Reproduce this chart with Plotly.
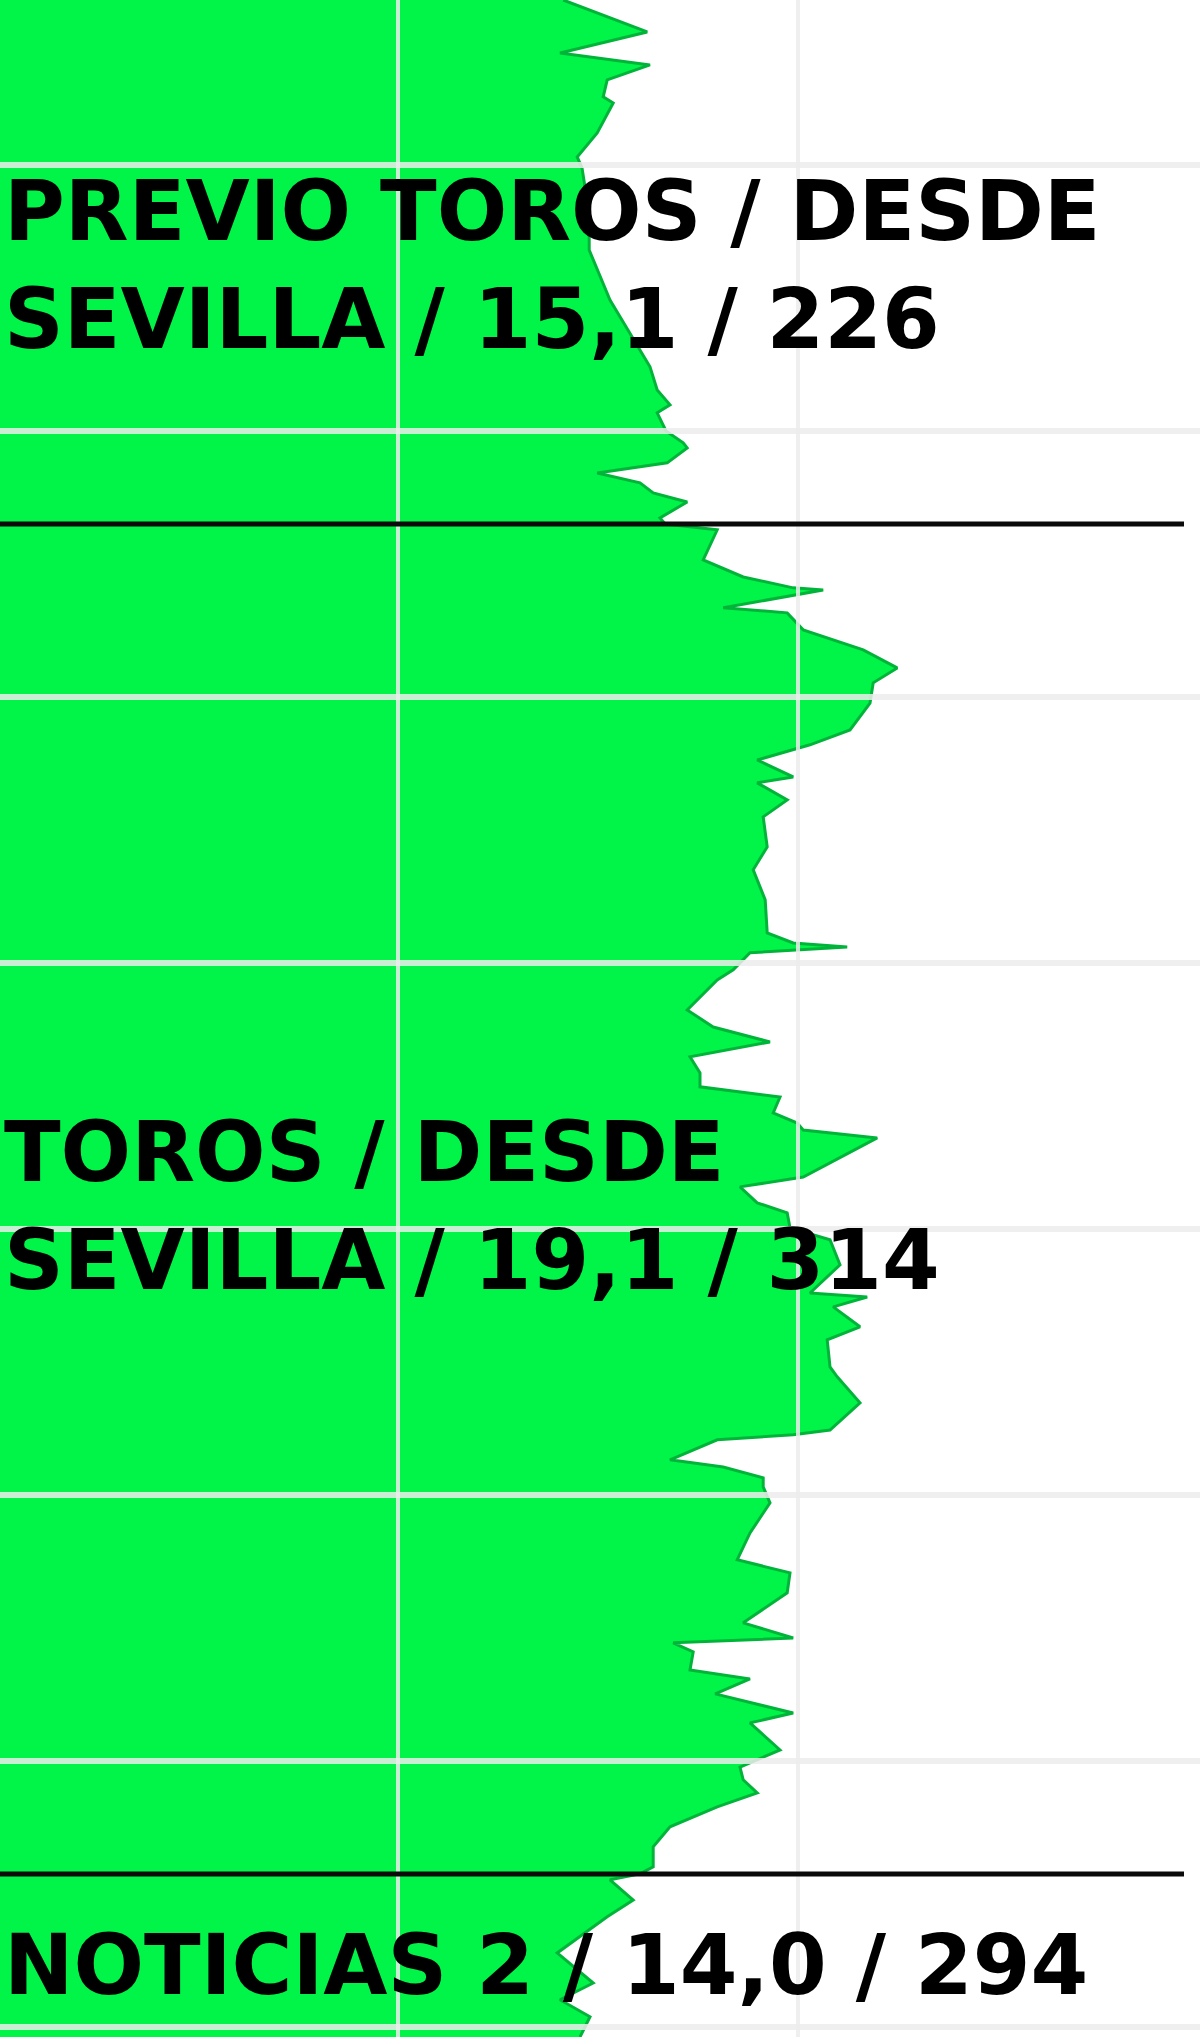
import plotly.graph_objects as go

# Audience share (%) by minute of broadcast, three consecutive programmes
previo_min = [3.80, 5.00, 5.79, 6.24, 6.80, 7.44, 7.67, 8.80, 9.70, 10.11, 11.84, 13.20,
              15.08, 16.69, 17.59, 18.46, 19.02, 19.32, 20.00, 20.45, 20.64, 21.20,
              21.58, 21.95, 22.33, 22.67, 23.27, 23.50]
previo_share = [14.13, 16.23, 14.05, 16.30, 15.23, 15.13, 15.38, 14.98, 14.48, 14.60, 14.78, 14.78,
                15.30, 15.93, 16.30, 16.48, 16.80, 16.48, 16.70, 17.13, 17.23, 16.73,
                14.98, 16.05, 16.38, 17.23, 16.55, 16.68]

toros_min = [23.72, 24.85, 25.49, 25.90, 25.98, 26.65, 26.84, 27.48, 28.23, 28.91, 29.47, 30.23,
             31.24, 31.80, 31.99, 32.37, 33.01, 33.23, 33.87, 34.51, 35.64, 36.50, 37.63,
             38.87, 39.25, 39.40, 39.62, 40.26, 40.64, 41.77, 42.41, 42.97, 43.53, 44.14,
             44.66, 45.04, 45.64, 46.02, 46.28, 46.58, 48.05, 48.42, 49.02, 49.40, 49.96,
             50.41, 51.35, 52.41, 52.56, 52.93, 53.68, 54.17, 55.19, 55.56, 56.54, 57.56,
             57.74, 57.93, 58.68, 58.95, 59.36, 59.70, 60.30, 61.43, 62.44, 62.93, 63.68,
             64.81, 65.38, 65.56, 65.90, 66.58, 66.92, 67.48, 68.20, 68.57, 69.59, 70.23,
             70.71, 71.20, 71.73, 72.48, 73.23, 73.98, 74.25]
toros_share = [17.98, 17.63, 18.63, 19.88, 20.63, 18.13, 19.73, 20.13, 21.63, 22.48, 21.88, 21.80,
               21.30, 20.30, 19.88, 18.98, 19.88, 18.98, 19.73, 19.13, 19.23, 18.88, 19.18,
               19.23, 19.88, 21.23, 18.80, 18.38, 17.98, 17.23, 17.88, 19.30, 17.30, 17.55,
               17.55, 19.55, 19.38, 19.98, 20.13, 21.98, 20.13, 18.55, 18.98, 19.73, 19.80,
               20.80, 21.05, 20.30, 21.73, 20.88, 21.55, 20.73, 20.80, 20.98, 21.55, 20.80,
               19.88, 17.98, 16.80, 18.13, 19.13, 19.13, 19.30, 18.80, 18.48, 19.80, 19.73,
               18.63, 19.88, 16.88, 17.38, 17.30, 18.80, 17.93, 19.88, 18.80, 19.55, 18.55,
               18.63, 18.98, 17.98, 16.80, 16.38, 16.38, 16.05]

noticias_min = [74.47, 75.23, 75.86, 77.22, 78.35, 78.98, 79.62, 80.38]
noticias_share = [15.30, 15.88, 15.23, 13.98, 14.88, 14.05, 14.80, 14.55]

programme_labels = ["PREVIO TOROS / DESDE<br>SEVILLA / 15,1 / 226",
                    "TOROS / DESDE<br>SEVILLA / 19,1 / 314",
                    "NOTICIAS 2 / 14,0 / 294"]
label_minutes = [13.78, 49.15, 77.68]
programme_breaks = [23.50, 74.25]

share_ticks = [10, 20]
minute_ticks = [10, 20, 30, 40, 50, 60, 70, 80]

X_RANGE = [0.05, 30.05]
Y_RANGE = [80.38, 3.80]

minutes = previo_min + toros_min + noticias_min
share = previo_share + toros_share + noticias_share

fig = go.Figure()
fig.add_trace(go.Scatter(
    x=share, y=minutes, mode="lines", fill="tozerox",
    fillcolor="#00F548", line=dict(color="#00B43A", width=3),
    hoverinfo="skip", showlegend=False))

grid_col = "rgba(236,236,236,0.85)"
for t in share_ticks:
    fig.add_shape(type="line", xref="x", yref="paper", x0=t, x1=t, y0=0, y1=1,
                  line=dict(color=grid_col, width=4), layer="above")
for t in minute_ticks:
    fig.add_shape(type="line", xref="paper", yref="y", x0=0, x1=1, y0=t, y1=t,
                  line=dict(color=grid_col, width=6), layer="above")

for b in programme_breaks:
    fig.add_shape(type="line", xref="x", yref="y", x0=0, x1=29.65, y0=b, y1=b,
                  line=dict(color="#0A0A0A", width=5), layer="above")

for txt, m in zip(programme_labels, label_minutes):
    fig.add_annotation(x=0, xref="paper", y=m, yref="y", text=txt, showarrow=False,
                       xanchor="left", yanchor="middle", align="left",
                       font=dict(family="DejaVu Sans", size=83, color="#000000",
                                 weight="bold"),
                       xshift=2)

fig.update_xaxes(range=X_RANGE, showticklabels=False, zeroline=False, showline=False,
                 showgrid=False)
fig.update_yaxes(range=Y_RANGE, showticklabels=False, zeroline=False, showline=False,
                 showgrid=False)
fig.update_layout(width=1200, height=2037, margin=dict(l=0, r=0, t=0, b=0),
                  plot_bgcolor="white", paper_bgcolor="white")

fig.write_html("out.html", config={"displayModeBar": False},
               post_script="document.body.style.margin='0';")
